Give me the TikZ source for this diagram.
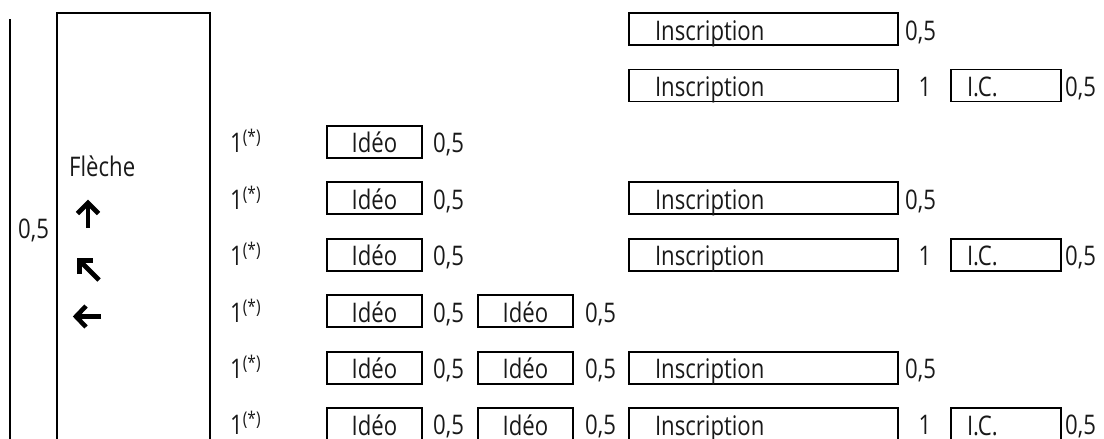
\documentclass[tikz,border=0pt]{standalone}
\usepackage{fontspec}
\setmainfont{Open Sans}[FakeStretch=0.82]
\begin{document}
\begin{tikzpicture}[x=1pt,y=-1pt,
  every node/.style={font=\fontsize{27}{30}\selectfont, text=black!90},
  frame/.style={line width=1.8pt},
  box/.style={draw, line width=1.8pt, anchor=north west, outer sep=0pt, inner ysep=0pt,
    minimum height=32pt, text height=24pt, text depth=2pt},
  insc/.style={box, text width=217pt, inner xsep=26pt, align=left},
  idbox/.style={box, minimum width=95pt, inner xsep=0pt},
  icbox/.style={box, text width=78pt, inner xsep=16pt, align=left},
  lab/.style={anchor=base west, inner sep=0pt},
  labc/.style={anchor=base, inner sep=0pt},
  glyph/.style={line width=4.6pt, miter limit=10, line join=miter},
]
\useasboundingbox (0,0) rectangle (1104,439);
\clip (0,0) rectangle (1104,439);

% left bracket line and Flèche frame
\coordinate (lt) at (10,19);
\coordinate (lb) at (10,450);
\draw[frame] (lt) -- (lb);
\coordinate (fbl) at (57,450);
\coordinate (ftl) at (57,13);
\coordinate (ftr) at (210,13);
\coordinate (fbr) at (210,450);
\draw[frame] (fbl) -- (ftl) -- (ftr) -- (fbr);
\node[lab] (lv) at (18,238) {0,5};
\node[lab] (fl) at (69,176) {Flèche};

% arrows (glyphs)
\draw[glyph] (88,228) -- (88,205);
\draw[glyph] (77.5,213.5) -- (88,203) -- (98.5,213.5);
\draw[glyph] (99,280) -- (81,262);
\draw[glyph] (79.5,274) -- (79.5,260.5) -- (93,260.5);
\draw[glyph] (101,316.5) -- (78,316.5);
\draw[glyph] (86,306) -- (76,316.5) -- (86,327);

% row 1
\node[insc] (r1i) at (629,13) {Inscription};
\node[lab] (r1a) at (905,40) {0,5};
% row 2
\node[insc] (r2i) at (629,69.4) {Inscription};
\node[labc] (r2b) at (925,96.4) {1};
\node[icbox] (r2c) at (951,69.4) {I.C.};
\node[lab] (r2d) at (1065,96.4) {0,5};
% row 3
\node[lab] (r3s) at (230,152.9) {1\textsuperscript{(*)}};
\node[idbox] (r3a) at (327,125.9) {Idéo};
\node[lab] (r3b) at (433,152.9) {0,5};
% row 4
\node[lab] (r4s) at (230,209.3) {1\textsuperscript{(*)}};
\node[idbox] (r4a) at (327,182.3) {Idéo};
\node[lab] (r4b) at (433,209.3) {0,5};
\node[insc] (r4i) at (629,182.3) {Inscription};
\node[lab] (r4c) at (905,209.3) {0,5};
% row 5
\node[lab] (r5s) at (230,265.7) {1\textsuperscript{(*)}};
\node[idbox] (r5a) at (327,238.7) {Idéo};
\node[lab] (r5b) at (433,265.7) {0,5};
\node[insc] (r5i) at (629,238.7) {Inscription};
\node[labc] (r5c) at (925,265.7) {1};
\node[icbox] (r5d) at (951,238.7) {I.C.};
\node[lab] (r5e) at (1065,265.7) {0,5};
% row 6
\node[lab] (r6s) at (230,322.2) {1\textsuperscript{(*)}};
\node[idbox] (r6a) at (327,295.2) {Idéo};
\node[lab] (r6b) at (433,322.2) {0,5};
\node[idbox] (r6c) at (478,295.2) {Idéo};
\node[lab] (r6d) at (585,322.2) {0,5};
% row 7
\node[lab] (r7s) at (230,378.6) {1\textsuperscript{(*)}};
\node[idbox] (r7a) at (327,351.6) {Idéo};
\node[lab] (r7b) at (433,378.6) {0,5};
\node[idbox] (r7c) at (478,351.6) {Idéo};
\node[lab] (r7d) at (585,378.6) {0,5};
\node[insc] (r7i) at (629,351.6) {Inscription};
\node[lab] (r7e) at (905,378.6) {0,5};
% row 8
\node[lab] (r8s) at (230,434.5) {1\textsuperscript{(*)}};
\node[idbox] (r8a) at (327,408) {Idéo};
\node[lab] (r8b) at (433,434.5) {0,5};
\node[idbox] (r8c) at (478,408) {Idéo};
\node[lab] (r8d) at (585,434.5) {0,5};
\node[insc] (r8i) at (629,408) {Inscription};
\node[labc] (r8e) at (925,434.5) {1};
\node[icbox] (r8f) at (951,408) {I.C.};
\node[lab] (r8g) at (1065,434.5) {0,5};
\end{tikzpicture}
\end{document}
